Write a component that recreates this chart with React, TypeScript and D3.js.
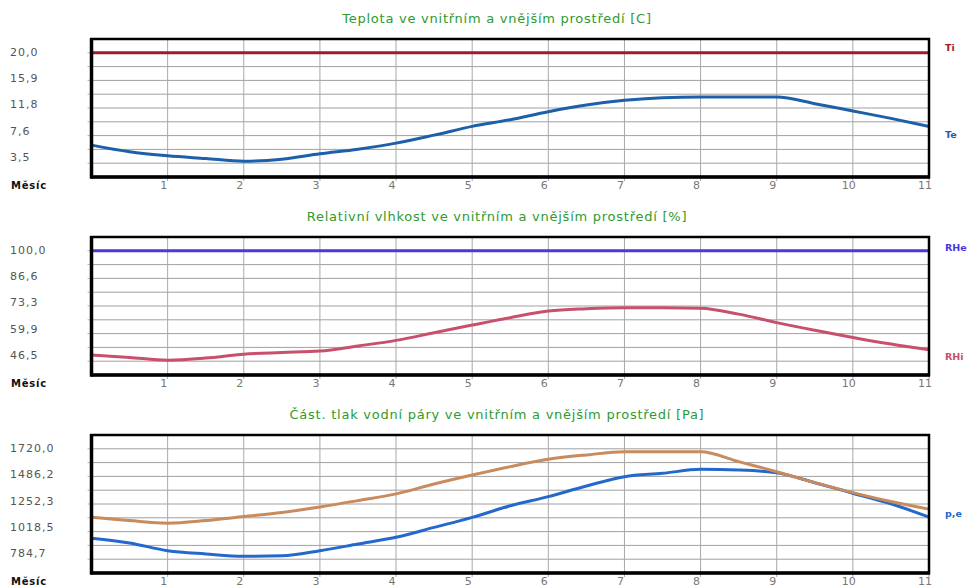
import React from 'react';
import * as d3 from 'd3';

// months sampled every half month
const months = [0, 0.5, 1, 1.5, 2, 2.5, 3, 3.5, 4, 4.5, 5, 5.5, 6, 6.5, 7, 7.5, 8, 8.5, 9, 9.5, 10, 10.5, 11];
const monthTicks = [1, 2, 3, 4, 5, 6, 7, 8, 9, 10, 11];

// temperature [C]
const ti = [20, 20, 20, 20, 20, 20, 20, 20, 20, 20, 20, 20, 20, 20, 20, 20, 20, 20, 20, 20, 20, 20, 20];
const te = [6.2, 5.2, 4.6, 4.2, 3.8, 4.1, 4.9, 5.6, 6.5, 7.7, 9.0, 10.0, 11.2, 12.2, 12.9, 13.3, 13.4, 13.4, 13.4, 12.4, 11.3, 10.2, 9.0];
const tempTicks = [20.0, 15.9, 11.8, 7.6, 3.5];

// relative humidity [%]
const rhe = [100, 100, 100, 100, 100, 100, 100, 100, 100, 100, 100, 100, 100, 100, 100, 100, 100, 100, 100, 100, 100, 100, 100];
const rhi = [49.5, 48.3, 47.0, 48.0, 49.9, 50.7, 51.4, 53.9, 56.6, 60.3, 64.0, 67.6, 70.8, 71.9, 72.4, 72.4, 72.2, 69.3, 65.2, 61.5, 58.0, 54.8, 52.0];
const rhTicks = [100.0, 86.6, 73.3, 59.9, 46.5];

// partial water vapour pressure [Pa]
const pe = [962, 922, 857, 829, 809, 814, 857, 913, 970, 1054, 1139, 1237, 1315, 1405, 1484, 1512, 1546, 1540, 1517, 1433, 1344, 1254, 1141];
const pi = [1141, 1112, 1090, 1112, 1146, 1180, 1227, 1281, 1338, 1422, 1498, 1569, 1631, 1668, 1695, 1695, 1695, 1611, 1526, 1433, 1349, 1273, 1209];
const pTicks = [1720.0, 1486.2, 1252.3, 1018.5, 784.7];

const W = 971;
const H = 587;
const left = 91.5;
const right = 929;
const plotH = 138;
const font = '"DejaVu Sans", Verdana, sans-serif';

const x = d3.scaleLinear().domain([0, 11]).range([left, right]);
const fmt = (v: number) => v.toFixed(1).replace('.', ',');

type Series = { values: number[]; color: string; label?: string; labelDy?: number };

const Panel = ({ top, title, ticks, series }: { top: number; title: string; ticks: number[]; series: Series[] }) => {
  const bottom = top + plotH;
  const max = ticks[0];
  const min = ticks[ticks.length - 1];
  // data range sits between the first and the last of the 10 grid divisions
  const y = d3.scaleLinear().domain([min, max]).range([top + plotH * 0.9, top + plotH * 0.1]);
  const yLab = d3.scaleLinear().domain([min, max]).range([top + 118.5, top + 13.5]);
  const line = d3.line<number>().x((_, i) => x(months[i])).y(d => y(d)).curve(d3.curveMonotoneX);
  const grid = d3.range(1, 10).map(k => top + (plotH * k) / 10);

  return (
    <g>
      <text x={497} y={top - 21} textAnchor="middle" dominantBaseline="central"
        fill="#2f9a2f" fontSize={13} letterSpacing={0.75} fontFamily={font}>{title}</text>
      {ticks.map(t => (
        <text key={t} x={10} y={yLab(t)} dominantBaseline="central" fill="#555"
          fontSize={11} letterSpacing={1} fontFamily={font}>{fmt(t)}</text>
      ))}
      <text x={11} y={bottom + 8} dominantBaseline="central" fill="#111" fontWeight="bold"
        fontSize={10} letterSpacing={0.8} fontFamily={font}>Měsíc</text>
      <rect x={left} y={top} width={right - left} height={plotH} fill="#fff" />
      {grid.map(g => (
        <g key={g}>
          <line x1={left} x2={right} y1={g} y2={g} stroke="#a0a0a0" strokeWidth={1} />
          <line x1={left - 4} x2={left} y1={g} y2={g} stroke="#bbb" strokeWidth={1} />
        </g>
      ))}
      {monthTicks.map(m => (
        <g key={m}>
          <line x1={x(m)} x2={x(m)} y1={top} y2={bottom + 4} stroke="#a8a8a8" strokeWidth={1} />
          <text x={x(m) - 4} y={bottom + 8} textAnchor="middle" dominantBaseline="central"
            fill="#777" fontSize={11} fontFamily={font}>{m}</text>
        </g>
      ))}
      {series.map((s, i) => (
        <path key={i} d={line(s.values) || ''} fill="none" stroke={s.color} strokeWidth={3} />
      ))}
      <rect x={left} y={top} width={right - left} height={plotH} fill="none" stroke="#000" strokeWidth={2.5} />
      <line x1={left} x2={left} y1={top - 1} y2={bottom + 1.5} stroke="#000" strokeWidth={3.5} />
      <line x1={left - 1} x2={right + 1} y1={bottom} y2={bottom} stroke="#000" strokeWidth={3.5} />
      {series.filter(s => s.label).map((s, i) => (
        <text key={i} x={945} y={y(s.values[s.values.length - 1]) + (s.labelDy || 0)}
          dominantBaseline="central" fill={s.color} fontSize={9.5} fontWeight="bold" fontFamily={font}>{s.label}</text>
      ))}
    </g>
  );
};

export default function App() {
  return (
    <svg width={W} height={H} style={{ position: 'absolute', left: 0, top: 0, background: '#fff' }}>
      <Panel top={39} title="Teplota ve vnitřním a vnějším prostředí [C]" ticks={tempTicks}
        series={[
          { values: ti, color: '#9e1a32', label: 'Ti', labelDy: -5 },
          { values: te, color: '#1d5fa8', label: 'Te', labelDy: 8 },
        ]} />
      <Panel top={237} title="Relativní vlhkost ve vnitřním a vnějším prostředí [%]" ticks={rhTicks}
        series={[
          { values: rhe, color: '#4a38dc', label: 'RHe', labelDy: -3 },
          { values: rhi, color: '#c8506c', label: 'RHi', labelDy: 7 },
        ]} />
      <Panel top={435} title="Část. tlak vodní páry ve vnitřním a vnějším prostředí [Pa]" ticks={pTicks}
        series={[
          { values: pe, color: '#2468cc', label: 'p,e', labelDy: -4 },
          { values: pi, color: '#c98a5c' },
        ]} />
    </svg>
  );
}
